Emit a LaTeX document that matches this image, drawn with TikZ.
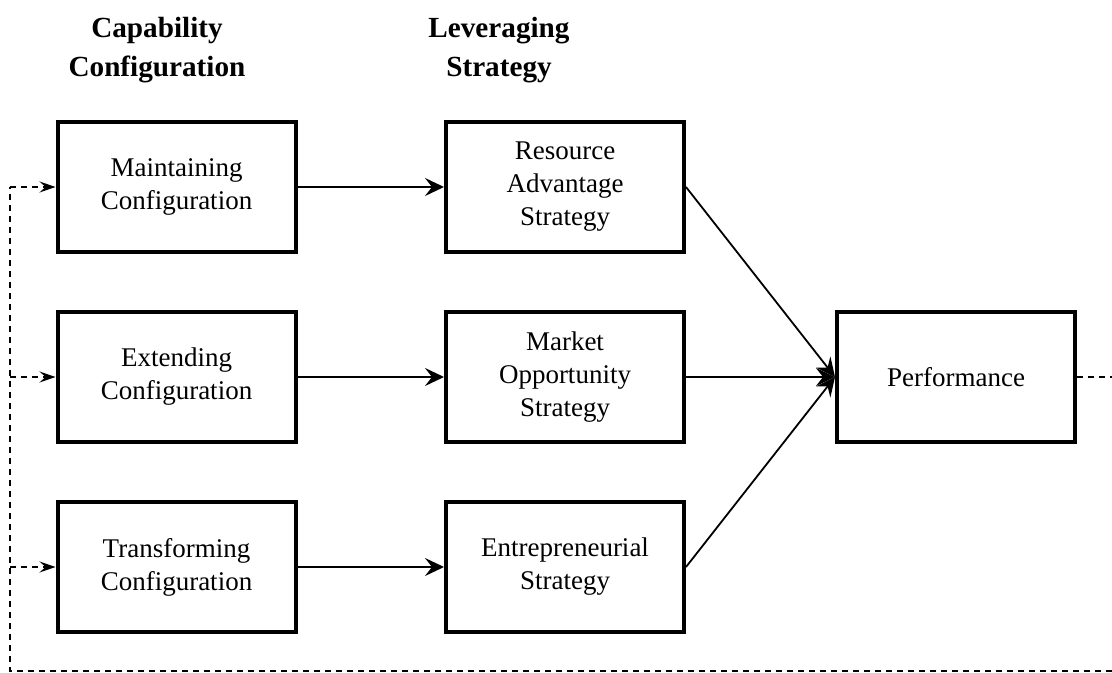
\documentclass[tikz,border=0pt]{standalone}
\usepackage{fontspec}
\setmainfont{Liberation Serif}
\usetikzlibrary{arrows.meta}

\begin{document}
\begin{tikzpicture}[x=0.5pt, y=-0.5pt,
  box/.style={draw, line width=2pt, minimum width=119pt, minimum height=65pt,
    inner sep=0pt, align=center, font=\fontsize{13.5}{16.5}\selectfont},
  head/.style={align=center, anchor=base, font=\fontsize{14.6}{19.5}\selectfont\bfseries},
  link/.style={line width=0.9pt, -{Stealth[length=9.5pt, width=9pt, inset=3.5pt]}},
  back/.style={line width=0.7pt, dash pattern=on 3pt off 2.5pt},
  backtip/.style={back, -{Stealth[length=8pt, width=5.5pt, inset=3pt]}}]
\useasboundingbox (0,0) rectangle (1112,673);
\node[head] (hcap) at (157,77) {Capability\\Configuration};
\node[head] (hlev) at (499,77) {Leveraging\\Strategy};
\foreach \n/\y/\t in {maint/187/{Maintaining\\Configuration}, ext/377/{Extending\\Configuration},
    trans/567/{Transforming\\Configuration}}
    \node[box] (\n) at (176.5,\y) {\t};
\foreach \n/\y/\t in {res/187/{Resource\\Advantage\\Strategy}, mkt/377/{Market\\Opportunity\\Strategy},
    ent/567/{Entrepreneurial\\Strategy}}
    \node[box] (\n) at (565,\y) {\t};
\node[box] (perf) at (956,377) {Performance};
\foreach \a/\b in {maint/res, ext/mkt, trans/ent}
    \draw[link] (\a) -- (\b);
\foreach \a in {res, mkt, ent}
    \draw[link] (\a.east) -- (perf.west);
\coordinate (out) at (1112,377);
\coordinate (low) at (1112,671);
\coordinate (corner) at (10,671);
\draw[back] (perf.east) -- (out);
\draw[back] (low) -- (corner) -- (corner |- maint.west);
\foreach \n in {maint, ext, trans}
    \draw[backtip] (corner |- \n.west) -- (\n.west);
\end{tikzpicture}
\end{document}
